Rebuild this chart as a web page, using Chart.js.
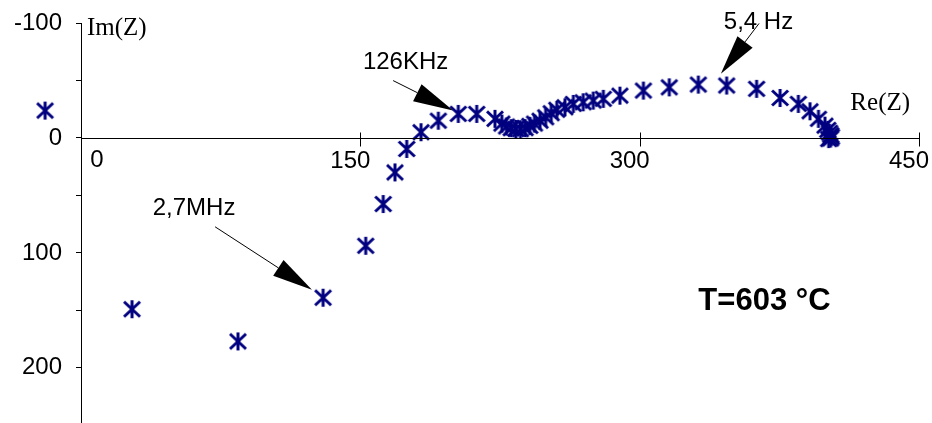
<!DOCTYPE html>
<html>
<head>
<meta charset="utf-8">
<script src="https://cdn.jsdelivr.net/npm/chart.js@4.4.1/dist/chart.umd.min.js"></script>
<style>
  html, body { margin: 0; padding: 0; background: #fff; }
  #wrap { width: 932px; height: 423px; }
</style>
</head>
<body>
<div id="wrap"><canvas id="nyquist" width="932" height="423"></canvas></div>
<script>
// --- DATA ---
// real part Re(Z) and imaginary part Im(Z) of each measured point
const reZ = [-19.3, 27.4, 84.3, 130, 152.9, 162.3, 168.6, 174.9, 182.6, 191.9,
  202.6, 212.5, 222.3, 226, 228.5, 231, 233.5, 236, 238.5, 241,
  243.5, 246.5, 249.5, 252.5, 255.5, 259.9, 264.4, 269.7, 275.1, 280.5,
  289.4, 302, 315.9, 331.5, 346.7, 362.8, 375.4, 385.2, 391.5, 396,
  399.5, 401, 402, 402.6, 403, 402.5, 401.5];
const imZ = [-23.8, 149, 177, 139, 93.8, 57.5, 30, 9.6, -5, -15,
  -20.9, -20.9, -16.6, -12.5, -10, -8.5, -7.8, -7.6, -8.5, -10.5,
  -12.5, -15, -18, -21.5, -24.5, -26.7, -29.6, -31, -32.5, -34,
  -36.8, -41.2, -44, -46.4, -45.6, -42.7, -34.8, -29.6, -23.2, -16.6,
  -10.7, -7, -4.5, -2.5, -1, 0.5, 1];

const xTicks = [0, 150, 300, 450];
const yTicks = [-100, -50, 0, 50, 100, 150, 200];
const yLabelled = [-100, 0, 100, 200];

const tempLabel = 'T=603 °C';

// --- ANNOTATIONS (anchored in data units) ---
const notes = [
  { text: '2,7MHz', textAt: [60.7, 61.6], from: [72, 77.3], to: [124, 132] },
  { text: '126KHz', textAt: [174.3, -65.6], from: [167.6, -49.9], to: [199.8, -23.8] },
  { text: '5,4 Hz', textAt: [363.8, -100.4], from: [364.1, -99.6], to: [343.6, -55.8] }
];

const SANS = '"Liberation Sans", Arial, sans-serif';
const SERIF = '"Liberation Serif", "Times New Roman", serif';
const NAVY = '#000080';

// asterisk marker like the spreadsheet "*" symbol
function makeStar() {
  const c = document.createElement('canvas');
  c.width = 20; c.height = 20;
  const g = c.getContext('2d');
  g.strokeStyle = NAVY;
  g.lineWidth = 3;
  g.beginPath();
  g.moveTo(2, 2.5); g.lineTo(18, 17.5);
  g.moveTo(18, 2.5); g.lineTo(2, 17.5);
  g.moveTo(10, 1); g.lineTo(10, 19);
  g.stroke();
  return c;
}

function drawArrow(ctx, x1, y1, x2, y2) {
  const ang = Math.atan2(y2 - y1, x2 - x1);
  const len = 40, half = 9.5;
  const bx = x2 - len * Math.cos(ang), by = y2 - len * Math.sin(ang);
  ctx.beginPath();
  ctx.moveTo(x1, y1); ctx.lineTo(bx, by);
  ctx.stroke();
  ctx.beginPath();
  ctx.moveTo(x2, y2);
  ctx.lineTo(bx - half * Math.sin(ang), by + half * Math.cos(ang));
  ctx.lineTo(bx + half * Math.sin(ang), by - half * Math.cos(ang));
  ctx.closePath();
  ctx.fill();
}

const overlay = {
  id: 'overlay',
  afterDraw(chart) {
    const { ctx } = chart;
    const x = chart.scales.x, y = chart.scales.y;
    const px = v => x.getPixelForValue(v), py = v => y.getPixelForValue(v);
    ctx.save();
    ctx.strokeStyle = '#000';
    ctx.fillStyle = '#000';
    ctx.lineWidth = 1;

    // horizontal axis only runs from Re=0 to the last tick
    const y0 = Math.round(py(0)) + 0.5;
    ctx.beginPath(); ctx.moveTo(px(0), y0); ctx.lineTo(px(xTicks[xTicks.length - 1]) + 1, y0); ctx.stroke();

    // x ticks cross the axis
    xTicks.forEach(v => {
      if (v === 0) return;
      const tx = Math.round(px(v)) + 0.5;
      ctx.beginPath(); ctx.moveTo(tx, y0 - 6); ctx.lineTo(tx, y0 + 8); ctx.stroke();
    });

    ctx.textBaseline = 'middle';
    ctx.font = '24px ' + SANS;
    // y tick labels, left of the vertical axis
    ctx.textAlign = 'right';
    yLabelled.forEach(v => ctx.fillText(String(v), px(0) - 19, py(v)));
    // the "0" label sits to the right of the vertical axis
    ctx.textAlign = 'center';
    ctx.fillText('0', px(0) + 16, py(0) + 22);

    // axis titles
    ctx.font = '25px ' + SERIF;
    ctx.textAlign = 'left';
    ctx.fillText('Im(Z)', px(3.2), py(-95.2));
    ctx.textAlign = 'right';
    ctx.fillText('Re(Z)', px(445.2), py(-29.9));

    // frequency annotations
    ctx.font = '24px ' + SANS;
    ctx.textAlign = 'center';
    notes.forEach(n => {
      ctx.fillText(n.text, px(n.textAt[0]), py(n.textAt[1]));
      drawArrow(ctx, px(n.from[0]), py(n.from[1]), px(n.to[0]), py(n.to[1]));
    });

    ctx.font = 'bold 31px ' + SANS;
    ctx.fillText(tempLabel, px(367), py(142.3));
    ctx.restore();
  }
};

const zeroPad = s => { s.paddingTop = 0; s.paddingBottom = 0; s.paddingLeft = 0; s.paddingRight = 0; };

new Chart(document.getElementById('nyquist'), {
  type: 'scatter',
  data: {
    datasets: [{
      data: reZ.map((r, i) => ({ x: r, y: imZ[i] })),
      pointStyle: makeStar(),
      pointRadius: 10,
      clip: false,
      showLine: false
    }]
  },
  options: {
    responsive: false,
    animation: false,
    layout: { autoPadding: false, padding: { left: 0, top: 23, right: 13, bottom: 0 } },
    plugins: { legend: { display: false }, tooltip: { enabled: false } },
    scales: {
      x: {
        type: 'linear',
        position: { y: 0 },
        min: -43.5, max: 450,
        afterBuildTicks: s => { s.ticks = xTicks.map(v => ({ value: v })); },
        afterFit: zeroPad,
        grid: { drawOnChartArea: false, drawTicks: false, tickLength: 8 },
        border: { display: false },
        ticks: {
          callback: v => (v === 0 ? '' : String(v)),
          color: '#000', font: { family: SANS, size: 24 },
          padding: 9, labelOffset: -10, maxRotation: 0, autoSkip: false
        }
      },
      y: {
        type: 'linear',
        position: { x: 0 },
        reverse: true,
        min: -100, max: 248,
        afterBuildTicks: s => { s.ticks = yTicks.map(v => ({ value: v })); },
        afterFit: zeroPad,
        grid: { drawOnChartArea: false, drawTicks: true, tickLength: 5, color: '#000' },
        border: { display: true, color: '#000', width: 1 },
        ticks: { display: false }
      }
    }
  },
  plugins: [overlay]
});
</script>
</body>
</html>
